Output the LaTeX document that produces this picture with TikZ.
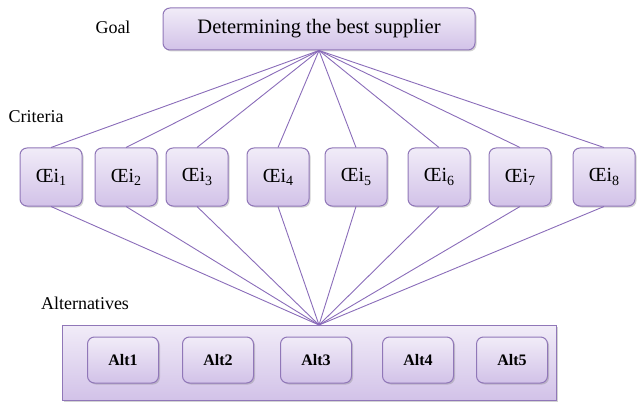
\documentclass[tikz,border=0pt]{standalone}
\usepackage{fontspec}
\setmainfont{Liberation Serif}
\usetikzlibrary{shadows}
\definecolor{boxedge}{HTML}{9077B8}
\definecolor{boxtop}{HTML}{F1ECF8}
\definecolor{boxbot}{HTML}{D2C2E8}
\definecolor{linkcol}{HTML}{8A6CB9}
\tikzset{
  purplebox/.style={draw=boxedge, line width=1pt, rounded corners=7pt,
    top color=boxtop, bottom color=boxbot,
    drop shadow={shadow xshift=1.5pt, shadow yshift=-1.5pt, opacity=0.35}},
  critbox/.style={purplebox, minimum width=62pt, minimum height=58pt,
    font=\fontsize{20}{22}\selectfont},
  altbox/.style={purplebox, minimum width=71pt, minimum height=46pt,
    font=\fontsize{16}{18}\selectfont\bfseries},
  link/.style={draw=linkcol, line width=0.9pt},
  lbl/.style={font=\fontsize{18}{20}\selectfont}
}
\newcommand{\crit}[1]{Œi\raisebox{-0.35ex}{\fontsize{14}{14}\selectfont #1}}
\begin{document}
\begin{tikzpicture}[x=1pt,y=-1pt]
\useasboundingbox (0,0) rectangle (639,406);
% goal
\node[purplebox, minimum width=312pt, minimum height=42pt,
  font=\fontsize{20.5}{22}\selectfont] (goal) at (319,29) {Determining the best supplier};
\node[lbl] (goallbl) at (113,27) {Goal};
\node[lbl] (critlbl) at (36,117) {Criteria};
\node[lbl] (altlbl) at (85,303) {Alternatives};
% alternatives container
\node[purplebox, rounded corners=0pt, minimum width=494pt, minimum height=75pt] (alts) at (309,362.5) {};
\coordinate (meet) at (319,325);
% criteria
\foreach \n/\x in {1/51,2/126,3/197,4/278,5/356,6/439,7/520,8/604}{
  \node[critbox] (c\n) at (\x,177) {\crit{\n}};
  \draw[link] (goal.south) -- (c\n.north);
  \draw[link] (c\n.south) -- (meet);
}
% alternatives
\foreach \n/\x in {1/123,2/218,3/316,4/418,5/512}{
  \node[altbox] (a\n) at (\x,360) {Alt\n};
}
\end{tikzpicture}
\end{document}
